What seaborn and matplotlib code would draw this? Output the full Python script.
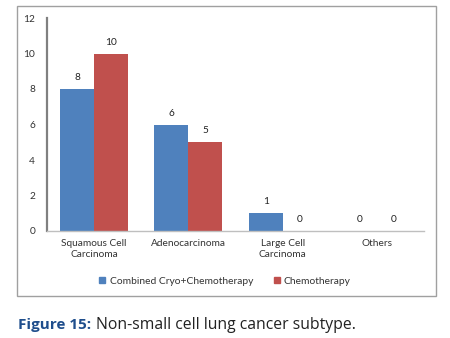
import matplotlib
matplotlib.use("Agg")
import matplotlib.pyplot as plt
import seaborn as sns
import pandas as pd
from matplotlib.patches import Rectangle, Patch

categories = ["Squamous Cell\nCarcinoma", "Adenocarcinoma", "Large Cell\nCarcinoma", "Others"]
series_names = ["Combined Cryo+Chemotherapy", "Chemotherapy"]
combined = [8, 6, 1, 0]
chemo = [10, 5, 0, 0]
yticks = [0, 2, 4, 6, 8, 10, 12]

rows = []
for c, a, b in zip(categories, combined, chemo):
    rows.append({"cat": c, "series": series_names[0], "val": a})
    rows.append({"cat": c, "series": series_names[1], "val": b})
df = pd.DataFrame(rows)

sns.set_theme(style="white")
plt.rcParams["font.family"] = ["Lato", "DejaVu Sans"]

fig = plt.figure(figsize=(4.5, 3.38), dpi=100)
ax = fig.add_axes([47/450, 1-231/338, (424-47)/450, (231-18)/338])

sns.barplot(data=df, x="cat", y="val", hue="series", order=categories,
            hue_order=series_names, palette=["#4F81BD", "#C0504D"],
            width=0.72, saturation=1, ax=ax, legend=False, linewidth=0)

for cont in ax.containers:
    ax.bar_label(cont, fontsize=7.3, padding=5, color="#222222")

ax.set_ylim(0, 12)
ax.set_yticks(yticks)
ax.set_xlim(-0.5, 3.5)
ax.set_xlabel("")
ax.set_ylabel("")
ax.tick_params(axis="y", labelsize=7.3, colors="#333333", length=0, pad=8.5)
ax.tick_params(axis="x", labelsize=7.3, colors="#333333", length=0, pad=6)
for s in ["top", "right"]:
    ax.spines[s].set_visible(False)
ax.spines["left"].set_color("#808080")
ax.spines["left"].set_linewidth(1.6)
ax.spines["bottom"].set_color("#BFBFBF")
ax.spines["bottom"].set_linewidth(1.0)

handles = [Patch(color="#4F81BD"), Patch(color="#C0504D")]
fig.legend(handles, series_names, loc="center", bbox_to_anchor=(0.5, 1-281/338),
           ncol=2, frameon=False, fontsize=7.4, handlelength=0.6, handleheight=0.6,
           columnspacing=2.0, handletextpad=0.4, labelcolor="#333333")

fig.patches.append(Rectangle((17/450, 1-296/338), (436-17)/450, (296-6)/338,
                             transform=fig.transFigure, fill=False,
                             edgecolor="#A0A0A0", linewidth=1.0))

fig.text(18/450, 1-325/338, "Figure 15:", fontsize=11, fontweight="bold",
         color="#1F4E8C", family=["Open Sans", "DejaVu Sans"], va="center", ha="left")
fig.text(96/450, 1-325/338, "Non-small cell lung cancer subtype.", fontsize=11.3,
         color="#222222", family=["Open Sans", "DejaVu Sans"], va="center", ha="left")

fig.savefig("out.png", dpi=100)
